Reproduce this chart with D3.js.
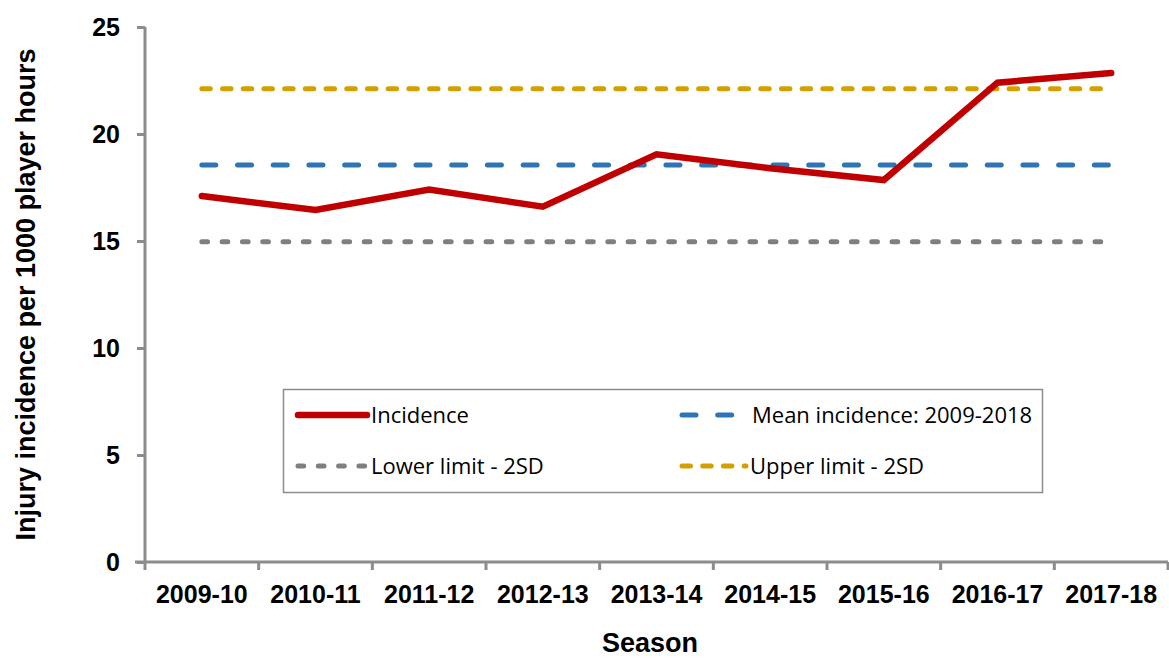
<!DOCTYPE html>
<html>
<head>
<meta charset="utf-8">
<script src="https://cdn.jsdelivr.net/npm/d3@7"></script>
<style>
  body { margin: 0; background: #fff; }
  svg { display: block; }
</style>
</head>
<body>
<script>
const SVG_WIDTH = 1169;
const SVG_HEIGHT = 659;

const seasons = ['2009-10', '2010-11', '2011-12', '2012-13', '2013-14', '2014-15', '2015-16', '2016-17', '2017-18'];
const incidence = [17.1, 16.45, 17.4, 16.6, 19.05, 18.4, 17.85, 22.4, 22.85];
const meanIncidence = 18.55;
const lowerLimit = 14.97;
const upperLimit = 22.12;
const yTicks = [0, 5, 10, 15, 20, 25];

const margin = { top: 27, right: 1, bottom: 97, left: 145 };
const AXIS_FONT = 'Liberation Sans, Arial, sans-serif';

const svg = d3.select('body').append('svg')
    .attr('width', SVG_WIDTH)
    .attr('height', SVG_HEIGHT);

const x = d3.scaleBand()
  .domain(seasons)
  .range([margin.left, SVG_WIDTH - margin.right]);

const y = d3.scaleLinear()
  .domain([0, 25])
  .range([SVG_HEIGHT - margin.bottom, margin.top]);

const cx = d => x(d) + x.bandwidth() / 2;

// axes
const yAxis = svg.append('g')
  .attr('transform', `translate(${margin.left},0)`)
  .call(d3.axisLeft(y).tickValues(yTicks).tickSize(8).tickPadding(17));

const xAxis = svg.append('g')
  .attr('transform', `translate(0,${y(0)})`)
  .call(d3.axisBottom(x).tickSize(0));

// tick marks between categories
const bounds = seasons.map(s => x(s)).concat([x(seasons[seasons.length - 1]) + x.bandwidth()]);
xAxis.selectAll('.sep')
  .data(bounds)
  .enter().append('line')
  .attr('x1', d => d).attr('x2', d => d)
  .attr('y1', 0).attr('y2', 8)
  .attr('stroke', '#8c8c8c')
  .attr('stroke-width', 3);

[yAxis, xAxis].forEach(g => {
  g.select('.domain').attr('stroke', '#8c8c8c').attr('stroke-width', 3);
  g.selectAll('.tick line').attr('stroke', '#8c8c8c').attr('stroke-width', 3);
  g.selectAll('.tick text')
    .attr('fill', '#000')
    .style('font-family', AXIS_FONT)
    .style('font-weight', 'bold')
    .style('font-size', '25px');
});
yAxis.select('.domain').attr('d', `M0,${y(0) + 1}V${y(25)}`);
xAxis.select('.domain').attr('d', `M${margin.left - 10},0H${SVG_WIDTH - margin.right}`);
xAxis.selectAll('.tick text').attr('dy', null).attr('y', 41);

// reference lines
const refLines = [
  { value: lowerLimit, color: '#7f7f7f', dash: '5.7,14.6' },
  { value: meanIncidence, color: '#2e75b6', dash: '14,21.7' },
  { value: upperLimit, color: '#d4a000', dash: '8.5,12.2' }
];

svg.selectAll('.ref')
  .data(refLines)
  .enter().append('line')
  .attr('x1', cx(seasons[0]))
  .attr('x2', cx(seasons[seasons.length - 1]))
  .attr('y1', d => y(d.value))
  .attr('y2', d => y(d.value))
  .attr('stroke', d => d.color)
  .attr('stroke-width', 5)
  .attr('stroke-linecap', 'round')
  .attr('stroke-dasharray', d => d.dash);

// incidence line
const line = d3.line()
  .x((d, i) => cx(seasons[i]))
  .y(d => y(d));

svg.append('path')
  .datum(incidence)
  .attr('d', line)
  .attr('fill', 'none')
  .attr('stroke', '#c00000')
  .attr('stroke-width', 6.5)
  .attr('stroke-linejoin', 'miter')
  .attr('stroke-linecap', 'round');

// axis titles
svg.append('text')
  .attr('transform', `translate(35,${(y(0) + y(25)) / 2}) rotate(-90)`)
  .attr('text-anchor', 'middle')
  .style('font-family', AXIS_FONT)
  .style('font-weight', 'bold')
  .style('font-size', '27px')
  .text('Injury incidence per 1000 player hours');

svg.append('text')
  .attr('x', 650)
  .attr('y', 652)
  .attr('text-anchor', 'middle')
  .style('font-family', AXIS_FONT)
  .style('font-weight', 'bold')
  .style('font-size', '27px')
  .text('Season');

// legend
const legend = svg.append('g');
legend.append('rect')
  .attr('x', 283.5).attr('y', 389.5)
  .attr('width', 759).attr('height', 103)
  .attr('fill', '#fff')
  .attr('stroke', '#8c8c8c')
  .attr('stroke-width', 1.5);

const legendItems = [
  { label: 'Incidence', color: '#c00000', dash: null, width: 6.5, lx: 298, len: 69, ly: 415, tx: 371 },
  { label: 'Mean incidence: 2009-2018', color: '#2e75b6', dash: '14,21.7', width: 5, lx: 682, len: 58, ly: 415, tx: 752 },
  { label: 'Lower limit - 2SD', color: '#7f7f7f', dash: '5.7,14.6', width: 5, lx: 298, len: 67, ly: 466, tx: 371 },
  { label: 'Upper limit - 2SD', color: '#d4a000', dash: '8.5,12.2', width: 5, lx: 682, len: 64, ly: 466, tx: 750 }
];

const li = legend.selectAll('.item')
  .data(legendItems)
  .enter().append('g');

li.append('line')
  .attr('x1', d => d.lx)
  .attr('x2', d => d.lx + d.len)
  .attr('y1', d => d.ly).attr('y2', d => d.ly)
  .attr('stroke', d => d.color)
  .attr('stroke-width', d => d.width)
  .attr('stroke-linecap', 'round')
  .attr('stroke-dasharray', d => d.dash);

li.append('text')
  .attr('x', d => d.tx)
  .attr('y', d => d.ly)
  .attr('dy', '0.35em')
  .style('font-family', 'Open Sans, sans-serif')
  .style('font-size', '22px')
  .attr('fill', '#000')
  .text(d => d.label);
</script>
</body>
</html>
